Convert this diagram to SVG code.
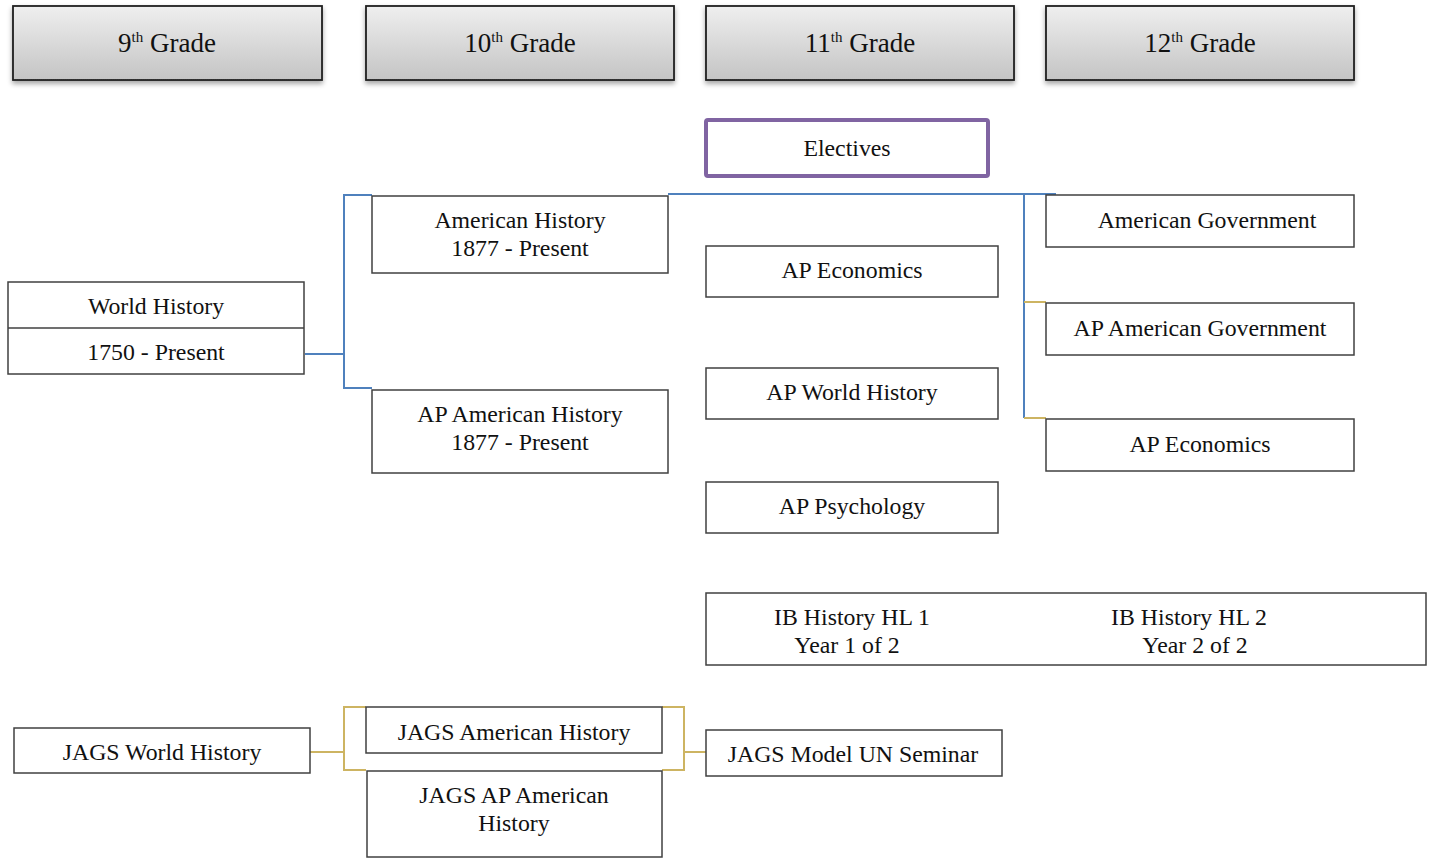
<svg xmlns="http://www.w3.org/2000/svg" width="1433" height="859" viewBox="0 0 1433 859">
<style>
text{font-family:"Liberation Serif","Times New Roman",serif;fill:#111;text-anchor:middle}
.t{font-size:23.8px}
.h{font-size:27px}
.sup{font-size:15px}
.box{fill:#fff;stroke:#404040;stroke-width:1.5}
.hdr{fill:url(#g);stroke:#202020;stroke-width:1.8;filter:url(#sh)}
.blue{fill:none;stroke:#4f81bd;stroke-width:2}
.gold{fill:none;stroke:#cdb462;stroke-width:2}
</style>
<defs>
<linearGradient id="g" x1="0" y1="0" x2="0" y2="1">
<stop offset="0" stop-color="#efefef"/>
<stop offset="1" stop-color="#c4c4c4"/>
</linearGradient>
<filter id="sh" x="-5%" y="-10%" width="115%" height="140%">
<feDropShadow dx="0" dy="3" stdDeviation="2.5" flood-color="#000" flood-opacity="0.35"/>
</filter>
</defs>
<rect width="1433" height="859" fill="#fff"/>

<g id="connectors">
<path class="blue" d="M305 354 H344 M372 195 H344 V388 H372"/>
<path class="blue" d="M668 194 H1056 M1024 194 V418"/>
<path class="gold" d="M1024 302 H1046 M1024 418 H1046"/>
<path class="gold" d="M310 752 H344 M366 707 H344 V770 H366"/>
<path class="gold" d="M662 707 H684 V770 H662 M684 752 H706"/>
</g>

<g id="grade9"><rect class="hdr" x="13" y="6" width="309" height="74"/><text class="h" x="167" y="52">9<tspan class="sup" dy="-10">th</tspan><tspan dy="10"> Grade</tspan></text></g>
<g id="grade10"><rect class="hdr" x="366" y="6" width="308" height="74"/><text class="h" x="520" y="52">10<tspan class="sup" dy="-10">th</tspan><tspan dy="10"> Grade</tspan></text></g>
<g id="grade11"><rect class="hdr" x="706" y="6" width="308" height="74"/><text class="h" x="860" y="52">11<tspan class="sup" dy="-10">th</tspan><tspan dy="10"> Grade</tspan></text></g>
<g id="grade12"><rect class="hdr" x="1046" y="6" width="308" height="74"/><text class="h" x="1200" y="52">12<tspan class="sup" dy="-10">th</tspan><tspan dy="10"> Grade</tspan></text></g>

<g id="electives"><rect x="706" y="120" width="282" height="56" rx="2" fill="#fff" stroke="#8064a2" stroke-width="4"/><text class="t" x="847" y="156">Electives</text></g>

<g id="world-history"><rect class="box" x="8" y="282" width="296" height="92"/><line x1="8" y1="328" x2="304" y2="328" stroke="#404040" stroke-width="1.5"/><text class="t" x="156" y="314">World History</text><text class="t" x="156" y="360">1750 - Present</text></g>

<g id="american-history"><rect class="box" x="372" y="196" width="296" height="77"/><text class="t" x="520" y="228">American History</text><text class="t" x="520" y="256">1877 - Present</text></g>
<g id="ap-american-history"><rect class="box" x="372" y="390" width="296" height="83"/><text class="t" x="520" y="422">AP American History</text><text class="t" x="520" y="450">1877 - Present</text></g>

<g id="ap-economics-11"><rect class="box" x="706" y="246" width="292" height="51"/><text class="t" x="852" y="278">AP Economics</text></g>
<g id="ap-world-history"><rect class="box" x="706" y="368" width="292" height="51"/><text class="t" x="852" y="400">AP World History</text></g>
<g id="ap-psychology"><rect class="box" x="706" y="482" width="292" height="51"/><text class="t" x="852" y="514">AP Psychology</text></g>

<g id="american-government"><rect class="box" x="1046" y="195" width="308" height="52"/><text class="t" x="1207" y="228">American Government</text></g>
<g id="ap-american-government"><rect class="box" x="1046" y="303" width="308" height="52"/><text class="t" x="1200" y="336">AP American Government</text></g>
<g id="ap-economics-12"><rect class="box" x="1046" y="419" width="308" height="52"/><text class="t" x="1200" y="452">AP Economics</text></g>

<g id="ib-history"><rect class="box" x="706" y="593" width="720" height="72"/><text class="t" x="852" y="625">IB History HL 1</text><text class="t" x="847" y="653">Year 1 of 2</text><text class="t" x="1189" y="625">IB History HL 2</text><text class="t" x="1195" y="653">Year 2 of 2</text></g>

<g id="jags-world-history"><rect class="box" x="14" y="728" width="296" height="45"/><text class="t" x="162" y="760">JAGS World History</text></g>
<g id="jags-american-history"><rect class="box" x="366" y="707" width="296" height="46"/><text class="t" x="514" y="740">JAGS American History</text></g>
<g id="jags-ap-american-history"><rect class="box" x="367" y="771" width="295" height="86"/><text class="t" x="514" y="803">JAGS AP American</text><text class="t" x="514" y="831">History</text></g>
<g id="jags-model-un"><rect class="box" x="706" y="730" width="296" height="46"/><text class="t" x="853" y="762">JAGS Model UN Seminar</text></g>
</svg>
